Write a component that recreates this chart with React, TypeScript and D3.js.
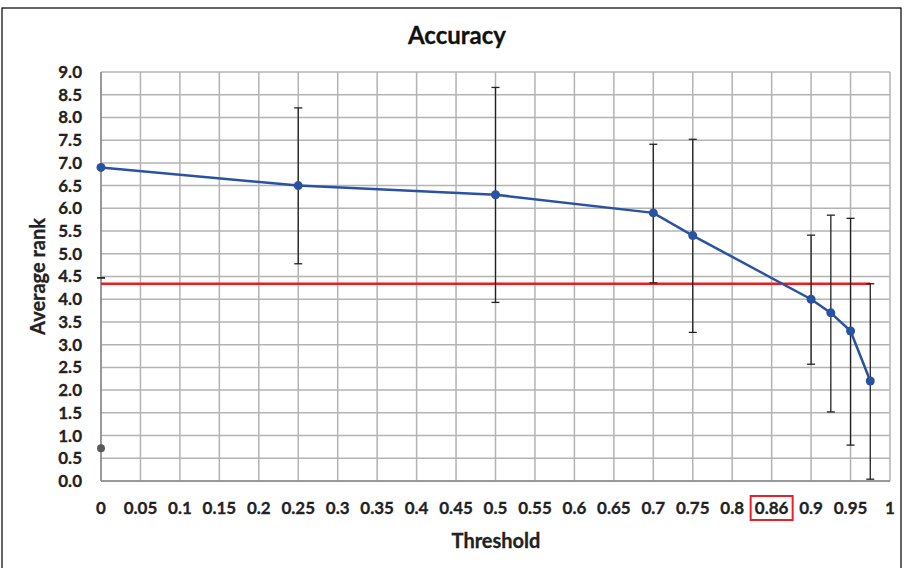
import React from "react";
import * as d3 from "d3";

// tick labels on the threshold axis (one per grid column)
const xTicks = [0, 0.05, 0.1, 0.15, 0.2, 0.25, 0.3, 0.35, 0.4, 0.45, 0.5, 0.55, 0.6, 0.65, 0.7, 0.75, 0.8, 0.85, 0.9, 0.95, 1];
const xTickLabels = ["0", "0.05", "0.1", "0.15", "0.2", "0.25", "0.3", "0.35", "0.4", "0.45", "0.5", "0.55", "0.6", "0.65", "0.7", "0.75", "0.8", "0.86", "0.9", "0.95", "1"];
const yTicks = d3.range(0, 9.01, 0.5);

// average rank per threshold with error bar extents
const thresholds = [0, 0.25, 0.5, 0.7, 0.75, 0.9, 0.925, 0.95, 0.975];
const avgRank = [6.9, 6.5, 6.3, 5.9, 5.4, 4.0, 3.7, 3.3, 2.2];
const errHigh = [4.47, 8.21, 8.66, 7.41, 7.52, 5.41, 5.85, 5.78, 4.34];
const errLow = [4.47, 4.78, 3.93, 4.36, 3.27, 2.57, 1.52, 0.79, 0.04];

const baseline = 4.34;
const baselineEnd = 0.975;
const strayPoint = { x: 0, y: 0.72 };
const highlighted = "0.86";

const W = 904;
const H = 568;
const margin = { top: 72, right: 14, bottom: 87, left: 101 };
const FONT = "Lato, 'Open Sans', sans-serif";

export default function App() {
  const x = d3.scaleLinear().domain([0, 1]).range([margin.left, W - margin.right]);
  const y = d3.scaleLinear().domain([0, 9]).range([H - margin.bottom, margin.top]);
  const line = d3
    .line<number>()
    .x((d, i) => x(thresholds[i]))
    .y((d) => y(d));

  const hiIdx = xTickLabels.indexOf(highlighted);

  return (
    <svg width={W} height={H} style={{ position: "absolute", left: 0, top: 0 }}>
      <rect x={0} y={0} width={W} height={H} fill="#fff" />
      <rect x={2} y={8} width={899} height={600} fill="none" stroke="#000" strokeWidth={1.2} />

      <text x={457} y={44} textAnchor="middle" fontFamily={FONT} fontWeight="bold" fontSize={24} fill="#111" stroke="#111" strokeWidth={0.3}>
        Accuracy
      </text>

      {/* grid */}
      {yTicks.map((t) => (
        <line key={"gy" + t} x1={x(0)} x2={x(1)} y1={y(t)} y2={y(t)} stroke="#b3b3b3" strokeWidth={1.5} />
      ))}
      {xTicks.map((t) => (
        <line key={"gx" + t} x1={x(t)} x2={x(t)} y1={y(0)} y2={y(9)} stroke="#b3b3b3" strokeWidth={1.5} />
      ))}
      <line x1={x(0)} x2={x(0)} y1={y(0)} y2={y(9)} stroke="#8a8a8a" strokeWidth={1.5} />
      <line x1={x(0)} x2={x(1)} y1={y(0)} y2={y(0)} stroke="#8a8a8a" strokeWidth={1.5} />

      <g fontFamily={FONT} fontWeight="bold" fontSize={17} fill="#222" stroke="#222" strokeWidth={0.3}>
        {/* y tick labels */}
        {yTicks.map((t) => (
          <text key={"ty" + t} x={82} y={y(t)} dy="0.35em" textAnchor="end">
            {t.toFixed(1)}
          </text>
        ))}
        {/* x tick labels */}
        {xTicks.map((t, i) => (
          <text key={"tx" + t} x={x(t)} y={514} textAnchor="middle">
            {xTickLabels[i]}
          </text>
        ))}
      </g>
      {hiIdx >= 0 && (
        <rect x={x(xTicks[hiIdx]) - 21} y={496} width={42} height={24} fill="none" stroke="#e8202a" strokeWidth={2} />
      )}

      <g fontFamily={FONT} fontWeight="bold" fontSize={20} fill="#222" stroke="#222" strokeWidth={0.3}>
        <text x={496} y={548} textAnchor="middle">
          Threshold
        </text>
        <text transform={`translate(45,${(y(0) + y(9)) / 2}) rotate(-90)`} textAnchor="middle">
          Average rank
        </text>
      </g>

      {/* baseline */}
      <line x1={x(0)} x2={x(baselineEnd)} y1={y(baseline)} y2={y(baseline)} stroke="#f01c1c" strokeWidth={2.5} />

      {/* error bars */}
      {thresholds.map((t, i) => (
        <g key={"e" + t} stroke="#222" strokeWidth={1.3}>
          <line x1={x(t)} x2={x(t)} y1={y(errLow[i])} y2={y(errHigh[i])} />
          <line x1={x(t) - 4} x2={x(t) + 4} y1={y(errLow[i])} y2={y(errLow[i])} />
          <line x1={x(t) - 4} x2={x(t) + 4} y1={y(errHigh[i])} y2={y(errHigh[i])} />
        </g>
      ))}

      <path d={line(avgRank) || ""} fill="none" stroke="#2a52a3" strokeWidth={2.5} />
      {thresholds.map((t, i) => (
        <circle key={"p" + t} cx={x(t)} cy={y(avgRank[i])} r={4.5} fill="#2a52a3" />
      ))}
      <circle cx={x(strayPoint.x)} cy={y(strayPoint.y)} r={4} fill="#5a5a5a" />
    </svg>
  );
}
